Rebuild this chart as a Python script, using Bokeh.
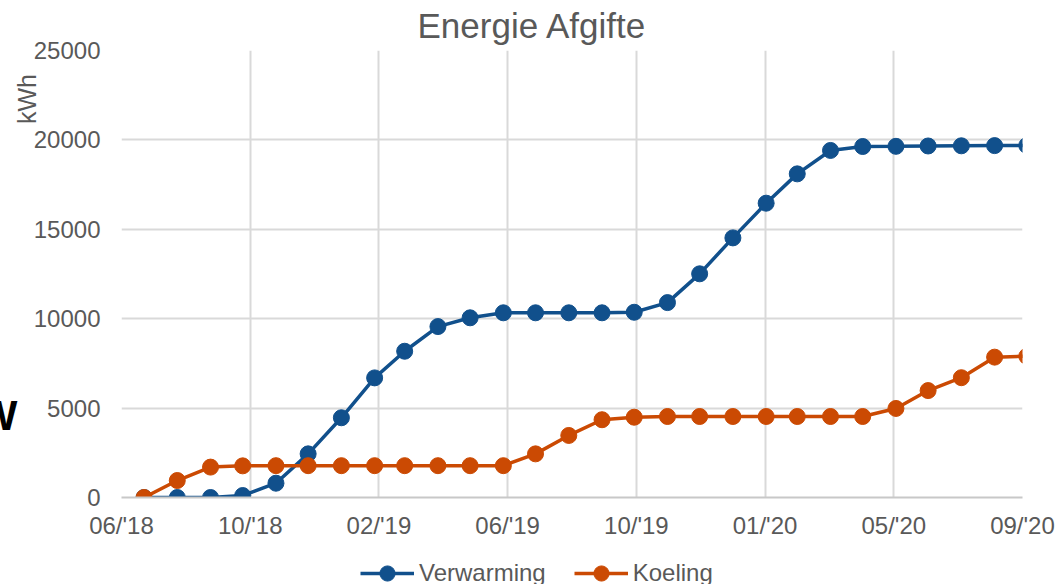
import pandas as pd
from bokeh.plotting import figure
from bokeh.layouts import column
from bokeh.models import (Range1d, FixedTicker, DatetimeTickFormatter, LinearAxis,
                          PrintfTickFormatter, Legend, LegendItem)
from bokeh.embed import file_html
from bokeh.resources import INLINE

# ---- data -------------------------------------------------------------
dates = ["2018-07-01", "2018-08-01", "2018-09-01", "2018-10-01", "2018-11-01", "2018-12-01",
         "2019-01-01", "2019-02-01", "2019-03-01", "2019-04-01", "2019-05-01", "2019-06-01",
         "2019-07-01", "2019-08-01", "2019-09-01", "2019-10-01", "2019-11-01", "2019-12-01",
         "2020-01-01", "2020-02-01", "2020-03-01", "2020-04-01", "2020-05-01", "2020-06-01",
         "2020-07-01", "2020-08-01", "2020-09-01", "2020-10-01"]
verwarming = [0, 0, 0, 110, 800, 2440, 4460, 6690, 8180, 9560, 10050, 10330,
              10330, 10330, 10330, 10360, 10900, 12510, 14520, 16460, 18100, 19410,
              19630, 19640, 19660, 19670, 19680, 19690]
koeling = [0, 950, 1700, 1770, 1780, 1780, 1780, 1780, 1780, 1780, 1780, 1780,
           2440, 3470, 4350, 4490, 4530, 4530, 4530, 4530, 4530, 4530,
           4530, 4980, 5980, 6700, 7850, 7900]
x_tick_dates = ["2018-06-10", "2018-10-08", "2019-02-05", "2019-06-05",
                "2019-10-03", "2020-01-31", "2020-05-30", "2020-09-27"]
y_ticks = [0, 5000, 10000, 15000, 20000, 25000]
series_names = ["Verwarming", "Koeling"]
series_colors = ["#11508c", "#cb4a03"]
title_text = "Energie Afgifte"
y_unit = "kWh"
stray_text = "W"

# ---- layout constants (page pixels) ----------------------------------
FL, FR, FT, FB = 121, 1022, 50, 497      # plot frame on the page
HL, HT = 150, 60                         # hidden strips left / above the page
LEG_H = 42                               # height of the legend strip

x = pd.to_datetime(dates)
xt = pd.to_datetime(x_tick_dates)
xt_ms = [float(t.value // 10**6) for t in xt]
t0, t1 = xt_ms[0], xt_ms[-1]


def yd(py):
    return (FB - py) / (FB - FT) * (y_ticks[-1] - y_ticks[0])


FONT = "Liberation Sans"
GREY = "#595959"

p = figure(width=1057 + HL, height=584 - LEG_H + HT, output_backend="svg",
           toolbar_location=None, x_axis_type="datetime",
           x_range=Range1d(start=t0, end=t1),
           y_range=Range1d(start=y_ticks[0], end=y_ticks[-1]),
           min_border_left=FL + HL, min_border_right=1057 - FR,
           min_border_top=FT + HT, min_border_bottom=584 - LEG_H - FB)
p.outline_line_color = None
p.background_fill_color = "white"
p.border_fill_color = "white"

# title
p.title.text = title_text
p.title.align = "left"
p.title.offset = 296
p.title.standoff = 12
p.title.text_font = FONT
p.title.text_font_size = "35px"
p.title.text_font_style = "normal"
p.title.text_color = GREY

xticker = FixedTicker(ticks=xt_ms)
yticker = FixedTicker(ticks=y_ticks)
p.xaxis.ticker = xticker
p.yaxis.ticker = yticker
p.xgrid.ticker = xticker
p.ygrid.ticker = yticker
fmt = "%m/'%y"
p.xaxis.formatter = DatetimeTickFormatter(
    microseconds=fmt, milliseconds=fmt, seconds=fmt, minsec=fmt, minutes=fmt,
    hourmin=fmt, hours=fmt, days=fmt, months=fmt, years=fmt)

for g in (p.xgrid, p.ygrid):
    g.grid_line_color = "#d9d9d9"
    g.grid_line_width = 2


def style_axis(ax, size="24px", color=GREY, bold=False):
    ax.major_tick_line_color = None
    ax.minor_tick_line_color = None
    ax.major_tick_out = 0
    ax.major_tick_in = 0
    ax.major_label_text_font = FONT
    ax.major_label_text_font_size = size
    ax.major_label_text_color = color
    if bold:
        ax.major_label_text_font_style = "bold"


style_axis(p.xaxis[0])
style_axis(p.yaxis[0])
p.yaxis.axis_line_color = None
p.xaxis.axis_line_color = "#c8c8c8"
p.xaxis.axis_line_width = 2
p.yaxis.major_label_standoff = 21
p.xaxis.major_label_standoff = 14

# unit label "kWh" (vertical) as a one-tick axis next to the value axis
unit_axis = LinearAxis(ticker=FixedTicker(ticks=[yd(98.5)]),
                       formatter=PrintfTickFormatter(format=y_unit),
                       major_label_orientation="vertical",
                       major_label_standoff=-10, axis_line_color=None)
style_axis(unit_axis, size="25px")
p.add_layout(unit_axis, "left")

# stray bold glyph at the far left edge
stray_axis = LinearAxis(ticker=FixedTicker(ticks=[yd(415)]),
                        formatter=PrintfTickFormatter(format=stray_text),
                        major_label_standoff=-8, axis_line_color=None)
style_axis(stray_axis, size="42px", color="black", bold=True)
p.add_layout(stray_axis, "left")

for vals, col in zip([verwarming, koeling], series_colors):
    p.line(x, vals, line_color=col, line_width=3.5)
    p.scatter(x, vals, size=16, fill_color=col, line_color=col)

# ---- legend strip (own small canvas under the chart, frame-aligned) ----
p2 = figure(width=1057 - FL, height=LEG_H, output_backend="svg", toolbar_location=None,
            x_axis_location=None, y_axis_location=None, min_border=0,
            x_range=Range1d(0, 1), y_range=Range1d(0, 1))
p2.outline_line_color = None
p2.grid.visible = False
p2.border_fill_color = "white"

items = []
for name, vals, col in zip(series_names, [verwarming, koeling], series_colors):
    # same series, outside this strip's view: only their legend glyphs show
    l = p2.line(x, vals, line_color=col, line_width=3.5)
    s = p2.scatter(x, vals, size=16, fill_color=col, line_color=col)
    items.append(LegendItem(label=name, renderers=[l, s]))

legend = Legend(items=items, location=(360 - FL, -8), orientation="horizontal",
                glyph_width=54, glyph_height=38, label_standoff=5, spacing=28,
                padding=0, margin=0, border_line_color=None,
                background_fill_alpha=0,
                label_text_font=FONT, label_text_font_size="24px",
                label_text_color=GREY)
p2.add_layout(legend)

root = column(p, p2, spacing=0, margin=(-HT, 0, 0, -HL))
open("out.html", "w").write(file_html(root, INLINE))
